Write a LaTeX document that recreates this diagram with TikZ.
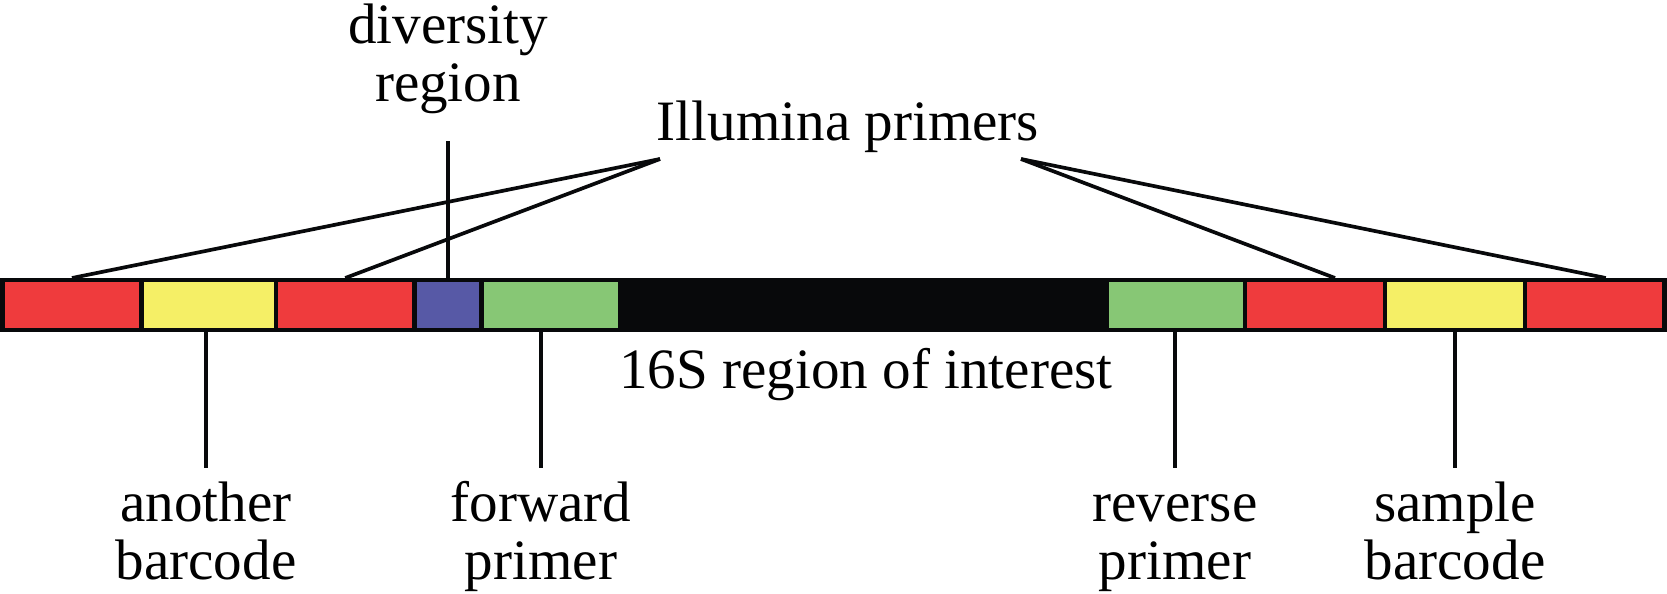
\documentclass[tikz,border=0pt]{standalone}
\usepackage{fontspec}
\setmainfont{Liberation Serif}
\usepackage{xcolor}
\usetikzlibrary{calc}
\definecolor{segred}{HTML}{EF3B3D}
\definecolor{segyellow}{HTML}{F5EF66}
\definecolor{segblue}{HTML}{5759A6}
\definecolor{seggreen}{HTML}{87C775}
\definecolor{segblack}{HTML}{08090B}
\tikzset{
		seg/.style={draw=segblack, line width=2.3pt, minimum height=1cm, inner sep=0pt},
		lbl/.style={font=\fontsize{32.5}{33}\selectfont, align=center, inner sep=0pt},
		lead/.style={draw=segblack, line width=2.1pt}
	}

\begin{document}
\begin{tikzpicture}[x=0.02cm, y=-0.02cm]
          \useasboundingbox (0,0) rectangle (1667,593);

          \coordinate (illuL) at (660,159);
          \coordinate (illuR) at (1021,159);
          \coordinate (top) at (0,141);
          \coordinate (low) at (0,468);

          \foreach \n/\a/\b/\c in {r1/2.5/141.5/segred, y1/141.5/276/segyellow,
                    r2/276/414.5/segred, b1/414.5/481.5/segblue, g1/481.5/620/seggreen,
                    k1/620/1107/segblack, g2/1107/1245/seggreen, r3/1245/1385/segred,
                    y2/1385/1525/segyellow, r4/1525/1664.5/segred}
            \node[seg, fill=\c, minimum width={(\b-\a)*0.02cm}] (\n) at ({(\a+\b)/2},305) {};

          \node[lbl, anchor=base] (div) at (448,101.7) {diversity\\region};
          \node[lbl, anchor=base] (illu) at (848,140.7) {Illumina primers};
          \node[lbl, anchor=base] (roi) at (866,388) {16S region of interest};
          \node[lbl, anchor=base] (ab) at (206,579.4) {another\\barcode};
          \node[lbl, anchor=base] (fp) at (541,579.4) {forward\\primer};
          \node[lbl, anchor=base] (rp) at (1175,579.4) {reverse\\primer};
          \node[lbl, anchor=base] (sb) at (1455,579.4) {sample\\barcode};

          \draw[lead] (illuL) -- (r1.north);
          \draw[lead] (illuL) -- (r2.north);
          \draw[lead] (illuR) -- ([xshift=0.4cm]r3.north);
          \draw[lead] (illuR) -- ([xshift=0.22cm]r4.north);

          \draw[lead] (div |- top) -- (div |- b1.north);% into the blue block
          \draw[lead] (ab |- y1.south) -- (ab |- low);
          \draw[lead] (fp |- g1.south) -- (fp |- low);
          \draw[lead] (rp |- g2.south) -- (rp |- low);
          \draw[lead] (sb |- y2.south) -- (sb |- low);

          \end{tikzpicture}
\end{document}
